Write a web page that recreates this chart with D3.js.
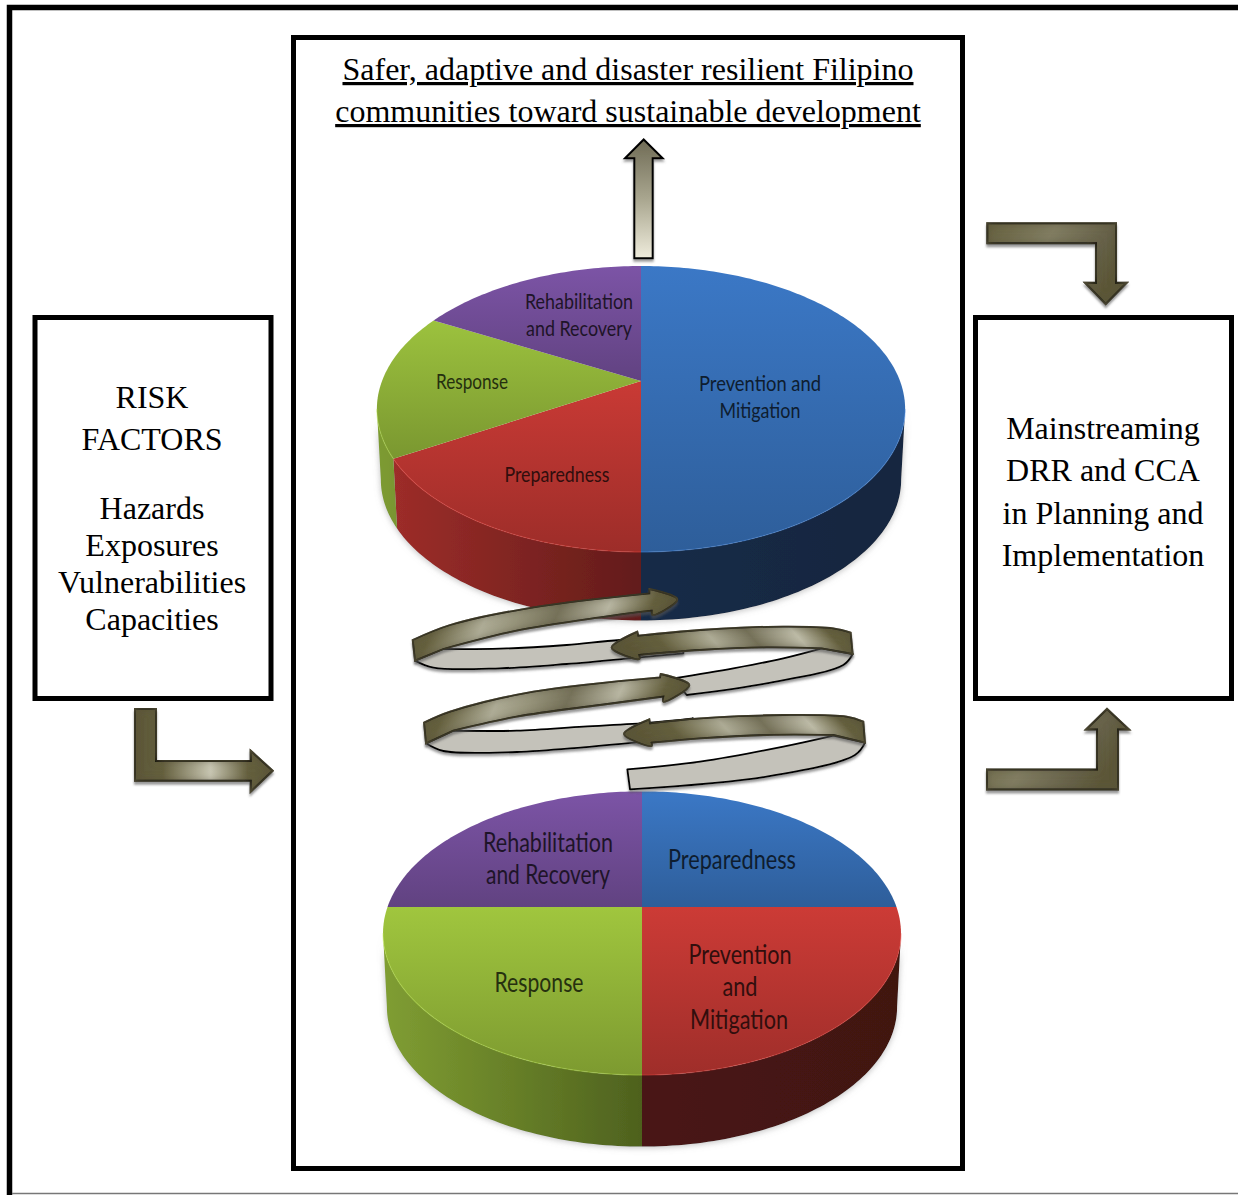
<!DOCTYPE html>
<html>
<head>
<meta charset="utf-8">
<script src="https://cdn.jsdelivr.net/npm/d3@7"></script>
<style>
  html, body { margin: 0; padding: 0; background: #fff; overflow: hidden; }
  svg { display: block; }
  .box_text { font-family: "Liberation Serif", serif; font-size: 32px; fill: #000; text-anchor: middle; }
  .pie_text { font-family: Lato, sans-serif; text-anchor: middle; }
</style>
</head>
<body>
<div id="chart_box"></div>
<script>
// values
var sliceNamesTop = ["Prevention and Mitigation", "Preparedness", "Response", "Rehabilitation and Recovery"];
var sliceValuesTop = [50, 16.5, 16.5, 17];
var sliceNamesBottom = ["Preparedness", "Prevention and Mitigation", "Response", "Rehabilitation and Recovery"];
var sliceValuesBottom = [25, 25, 25, 25];

var titleLines = ["Safer, adaptive and disaster resilient Filipino", "communities toward sustainable development"];
var leftLines = ["RISK", "FACTORS", "Hazards", "Exposures", "Vulnerabilities", "Capacities"];
var rightLines = ["Mainstreaming", "DRR and CCA", "in Planning and", "Implementation"];

var colorsTop = ["#3b78c6", "#c93a35", "#9cc23e", "#7c54a6"];
var colorsBottom = ["#3b78c6", "#cc3b36", "#a0c63e", "#7c54a6"];

var svg = d3.select("#chart_box").append("svg").attr("width", 1238).attr("height", 1195);
var defs = svg.append("defs");

var shadow = defs.append("filter").attr("id", "arrow_shadow")
    .attr("x", "-10%").attr("y", "-10%").attr("width", "120%").attr("height", "130%");
shadow.append("feDropShadow").attr("dx", 0).attr("dy", 2.5).attr("stdDeviation", 0.8)
    .attr("flood-color", "#555").attr("flood-opacity", 0.6);

// dark olive inner edge plus the drop shadow, for the brown arrows
var bandFilter = defs.append("filter").attr("id", "band_edge")
    .attr("x", "-10%").attr("y", "-20%").attr("width", "120%").attr("height", "150%");
bandFilter.append("feGaussianBlur").attr("in", "SourceAlpha").attr("stdDeviation", 4).attr("result", "b");
bandFilter.append("feFlood").attr("flood-color", "#57523a").attr("result", "f");
bandFilter.append("feComposite").attr("in", "f").attr("in2", "b").attr("operator", "out").attr("result", "o");
bandFilter.append("feComposite").attr("in", "o").attr("in2", "SourceAlpha").attr("operator", "in").attr("result", "inner");
bandFilter.append("feOffset").attr("in", "SourceAlpha").attr("dy", 2.5).attr("result", "off");
bandFilter.append("feGaussianBlur").attr("in", "off").attr("stdDeviation", 0.8).attr("result", "offb");
bandFilter.append("feFlood").attr("flood-color", "#555").attr("flood-opacity", 0.6).attr("result", "sf");
bandFilter.append("feComposite").attr("in", "sf").attr("in2", "offb").attr("operator", "in").attr("result", "drop");
var bandMerge = bandFilter.append("feMerge");
bandMerge.append("feMergeNode").attr("in", "drop");
bandMerge.append("feMergeNode").attr("in", "SourceGraphic");
bandMerge.append("feMergeNode").attr("in", "inner");

var wallShadow = defs.append("filter").attr("id", "wall_shadow")
    .attr("x", "-10%").attr("y", "-10%").attr("width", "120%").attr("height", "130%");
wallShadow.append("feGaussianBlur").attr("in", "SourceGraphic").attr("stdDeviation", 0.7).attr("result", "soft");
wallShadow.append("feDropShadow").attr("in", "soft").attr("dx", 0).attr("dy", 1).attr("stdDeviation", 3)
    .attr("flood-color", "#888").attr("flood-opacity", 0.55);

function shade(color, f) {
  var c = d3.rgb(color);
  return d3.rgb(c.r * f, c.g * f, c.b * f).formatHex();
}

function gradient(id, x1, y1, x2, y2, stops, userSpace) {
  var g = defs.append("linearGradient").attr("id", id)
      .attr("x1", x1).attr("y1", y1).attr("x2", x2).attr("y2", y2);
  if (userSpace) g.attr("gradientUnits", "userSpaceOnUse");
  stops.forEach(function(s) {
    g.append("stop").attr("offset", s[0]).attr("stop-color", s[1]);
  });
}

// frames
svg.append("path").attr("d", "M9.5,1195V7.5H1238").attr("fill", "none").attr("stroke", "#000").attr("stroke-width", 5.5);
svg.append("line").attr("x1", 12).attr("x2", 1238).attr("y1", 1193.5).attr("y2", 1193.5).attr("stroke", "#777").attr("stroke-width", 1.5);

function frameBox(x, y, w, h) {
  svg.append("rect").attr("x", x).attr("y", y).attr("width", w).attr("height", h)
      .attr("fill", "#fff").attr("stroke", "#000").attr("stroke-width", 5);
}
frameBox(293.5, 37.5, 669, 1131);
frameBox(35, 317.5, 236, 381);
frameBox(975.5, 317.5, 256, 381);

// text in the boxes
svg.append("g").selectAll("text").data(titleLines).enter().append("text")
    .attr("class", "box_text")
    .attr("x", 628)
    .attr("y", function(d, i) { return 80 + i * 42; })
    .style("text-decoration", "underline")
    .text(function(d) { return d; });

var leftBaselines = [408, 450, 519, 556, 593, 630];
svg.append("g").selectAll("text").data(leftLines).enter().append("text")
    .attr("class", "box_text")
    .attr("x", 152)
    .attr("y", function(d, i) { return leftBaselines[i]; })
    .text(function(d) { return d; });

svg.append("g").selectAll("text").data(rightLines).enter().append("text")
    .attr("class", "box_text")
    .attr("x", 1103)
    .attr("y", function(d, i) { return 439 + i * 42.3; })
    .text(function(d) { return d; });

// pies: d3.pie gives the slices, the tilt is a perspective mapping of the unit circle
var pie = d3.pie().sort(null).value(function(d) { return d; });
var faceLine = d3.line().curve(d3.curveLinear);

function drawPie(id, values, names, colors, geo, spots) {
  var k = geo.tilt;
  function project(a, lower) {
    var u = Math.sin(a), v = -Math.cos(a), w = 1 - k * v;
    var s = lower ? geo.shrink : 1;
    return [geo.cx + s * geo.rx * u / w, geo.cy + (lower ? geo.depth : 0) + s * geo.ry * v / w];
  }
  function ring(a0, a1, lower) {
    var n = Math.max(2, Math.ceil((a1 - a0) / 0.02));
    return d3.range(n + 1).map(function(i) { return project(a0 + (a1 - a0) * i / n, lower); });
  }

  var slices = pie(values);
  var g = svg.append("g").attr("class", "pie_" + id);
  var left = geo.cx - geo.rx * 1.02, right = geo.cx + geo.rx * 1.02;

  // only the front of the wall is seen, from the right extreme of the ellipse round to the left one
  var frontStart = Math.PI / 2 + Math.asin(k), frontEnd = 2 * Math.PI - frontStart;

  slices.forEach(function(d, i) {
    gradient(id + "_wall_" + i, left, 0, right, 0, [
      [0, shade(colors[i], 0.8)], [0.5, shade(colors[i], 0.49)], [0.5, shade(colors[i], 0.36)], [1, shade(colors[i], 0.32)]
    ], true);
    gradient(id + "_face_" + i, 0, 0, 0, 1, [[0, colors[i]], [1, shade(colors[i], 0.78)]]);
  });

  g.append("g").attr("filter", "url(#wall_shadow)").selectAll("path").data(slices).enter().append("path")
      .attr("d", function(d) {
        var a0 = Math.max(d.startAngle, frontStart), a1 = Math.min(d.endAngle, frontEnd);
        if (a1 <= a0) return null;
        return faceLine(ring(a0, a1, false).concat(ring(a0, a1, true).reverse())) + "Z";
      })
      .attr("fill", function(d, i) { return "url(#" + id + "_wall_" + i + ")"; });

  g.append("g").selectAll("path").data(slices).enter().append("path")
      .attr("d", function(d) {
        return faceLine([[geo.cx, geo.cy]].concat(ring(d.startAngle, d.endAngle, false))) + "Z";
      })
      .attr("fill", function(d, i) { return "url(#" + id + "_face_" + i + ")"; });

  // light rim along the front of the face
  g.append("g").selectAll("path").data(slices).enter().append("path")
      .attr("d", function(d) {
        var a0 = Math.max(d.startAngle, frontStart), a1 = Math.min(d.endAngle, frontEnd);
        return a1 > a0 ? faceLine(ring(a0, a1, false)) : null;
      })
      .attr("fill", "none")
      .attr("stroke", function(d, i) { return d3.rgb(colors[i]).brighter(0.5); })
      .attr("stroke-opacity", 0.35)
      .attr("stroke-width", 1.3);

  spots.forEach(function(lines) {
    lines.rows.forEach(function(r) {
      g.append("text").attr("class", "pie_text")
          .attr("x", r[1]).attr("y", r[2])
          .attr("textLength", r[3]).attr("lengthAdjust", "spacingAndGlyphs")
          .attr("font-size", geo.fontSize)
          .attr("fill", shade(colors[lines.slice], 0.24))
          .text(r[0]);
    });
  });
}

drawPie("top", sliceValuesTop, sliceNamesTop, colorsTop,
  { cx: 641, cy: 381, rx: 259, ry: 137.5, tilt: 0.196, depth: 71, shrink: 0.985, fontSize: 21 },
  [
    { slice: 0, rows: [["Prevention  and", 760, 391, 122], ["Mitigation", 760, 418, 81]] },
    { slice: 1, rows: [["Preparedness", 557, 482, 105]] },
    { slice: 2, rows: [["Response", 472, 389, 72]] },
    { slice: 3, rows: [["Rehabilitation", 579, 309, 108], ["and Recovery", 579, 336, 106]] }
  ]);

drawPie("bottom", sliceValuesBottom, sliceNamesBottom, colorsBottom,
  { cx: 642, cy: 907, rx: 254.5, ry: 137, tilt: 0.185, depth: 74, shrink: 0.985, fontSize: 26 },
  [
    { slice: 0, rows: [["Preparedness", 732, 869, 128]] },
    { slice: 1, rows: [["Prevention", 740, 964, 103], ["and", 740, 996, 35], ["Mitigation", 739, 1029, 98]] },
    { slice: 2, rows: [["Response", 539, 992, 89]] },
    { slice: 3, rows: [["Rehabilitation", 548, 852, 130], ["and Recovery", 548, 884, 124]] }
  ]);

// straight block arrows
var brown = "#5c5738";
gradient("arrow_h", 0, 0, 1, 0, [[0, brown], [0.2, "#65603f"], [0.55, "#c8c6b2"], [0.82, "#65603f"], [1, brown]]);
gradient("arrow_v", 0, 0, 1, 0.35, [[0, "#65603f"], [0.45, "#817d62"], [0.8, "#67624a"], [1, brown]]);
gradient("arrow_up", 0, 0, 0, 1, [[0, "#6f6b55"], [0.5, "#a9a68f"], [1, "#efecdc"]]);

var blockArrows = [
  { fill: "arrow_up", filter: "arrow_shadow", pts: [[643.7, 139.5], [662.7, 158.3], [652.7, 158.3], [652.7, 258.3], [634.3, 258.3], [634.3, 158.3], [625, 158.3]] },
  { fill: "arrow_h", filter: "band_edge", pts: [[135, 709], [156, 709], [156, 761], [250.7, 761], [250.7, 750.7], [272.7, 770.7], [250.7, 791.7], [250.7, 780.7], [135, 780.7]] },
  { fill: "arrow_v", filter: "band_edge", pts: [[987.3, 223.3], [1116, 223.3], [1116, 282.7], [1126.7, 282.7], [1105.7, 304], [1085, 282.7], [1096, 282.7], [1096, 243.3], [987.3, 243.3]] },
  { fill: "arrow_v", filter: "band_edge", pts: [[987, 789.5], [1118, 789.5], [1118, 729.5], [1129, 729.5], [1107, 709], [1086, 729.5], [1097, 729.5], [1097, 769.5], [987, 769.5]] }
];

svg.append("g").attr("class", "block_arrows").selectAll("path").data(blockArrows).enter().append("path")
    .attr("d", function(d) { return d3.line()(d.pts) + "Z"; })
    .attr("fill", function(d) { return "url(#" + d.fill + ")"; })
    .attr("filter", function(d) { return "url(#" + d.filter + ")"; })
    .attr("stroke", "#000").attr("stroke-width", 2).attr("stroke-linejoin", "miter");

var rx = d3.scaleLinear().domain([0, 1440]).range([400, 880]);
var ry = d3.scaleLinear().domain([0, 690]).range([570, 800]);
var edge = d3.line().x(function(d) { return rx(d[0]); }).y(function(d) { return ry(d[1]); }).curve(d3.curveCatmullRom.alpha(0.5));

function outline(segments) {
  return segments.map(function(seg, i) {
    var p = edge(seg);
    return i ? p.replace("M", "L") : p;
  }).join("") + "Z";
}

gradient("band_a", 0, 0, 1, 0.12, [[0, brown], [0.14, "#65603f"], [0.32, "#aeac96"], [0.44, "#96937a"], [0.58, "#76725a"], [0.76, "#b8b6a2"], [0.92, "#65603f"], [1, brown]]);
gradient("band_b", 1, 0, 0, 0.12, [[0, brown], [0.12, "#65603f"], [0.26, "#bdbba7"], [0.45, "#76725a"], [0.62, "#aeac96"], [0.84, "#65603f"], [1, brown]]);

var grayBands = [
  [[[45, 272], [100, 293], [300, 295], [500, 282], [720, 262], [850, 250]], [[850, 205], [660, 210], [500, 225], [300, 236], [130, 237]]],
  [[[1358, 252], [1330, 285], [1100, 340], [860, 375]], [[820, 325], [1000, 295], [1150, 265], [1265, 235]]],
  [[[78, 520], [130, 543], [350, 546], [550, 532], [760, 512]], [[880, 445], [750, 458], [550, 470], [350, 482], [160, 482]]],
  [[[1395, 518], [1365, 555], [1100, 620], [690, 658]], [[682, 598], [900, 575], [1150, 530], [1300, 497]]]
];

var brownBands = [
  { fill: "band_a", segs: [[[38, 210], [150, 165], [400, 112], [748, 70]], [[748, 57], [832, 88], [758, 135], [755, 122]], [[755, 122], [600, 142], [350, 182], [130, 237]], [[45, 272], [38, 210]]] },
  { fill: "band_b", segs: [[[1352, 188], [1300, 175], [1150, 170], [900, 180], [715, 197]], [[712, 185], [635, 233], [718, 267], [718, 255]], [[718, 255], [900, 240], [1100, 232], [1265, 235]], [[1358, 252], [1352, 188]]] },
  { fill: "band_a", segs: [[[72, 458], [150, 425], [400, 365], [780, 322]], [[782, 312], [868, 345], [790, 395], [790, 380]], [[790, 380], [600, 405], [350, 440], [160, 482]], [[78, 520], [72, 458]]] },
  { fill: "band_b", segs: [[[1390, 455], [1340, 440], [1150, 435], [900, 445], [750, 460]], [[748, 448], [672, 492], [755, 528], [755, 518]], [[755, 518], [900, 505], [1100, 495], [1300, 495]], [[1395, 518], [1390, 455]]] }
];

var spiral = svg.append("g").attr("class", "spiral");
spiral.selectAll(".gray_band").data(grayBands).enter().append("path").attr("class", "gray_band")
    .attr("d", outline)
    .attr("fill", "#c4c2ba")
    .attr("stroke", "#000").attr("stroke-width", 1.8).attr("stroke-linejoin", "round")
    .attr("filter", "url(#arrow_shadow)");
spiral.selectAll(".brown_band").data(brownBands).enter().append("path").attr("class", "brown_band")
    .attr("d", function(d) { return outline(d.segs); })
    .attr("fill", function(d) { return "url(#" + d.fill + ")"; })
    .attr("filter", "url(#band_edge)")
    .attr("stroke", "#000").attr("stroke-width", 1.8).attr("stroke-linejoin", "miter");
</script>
</body>
</html>
